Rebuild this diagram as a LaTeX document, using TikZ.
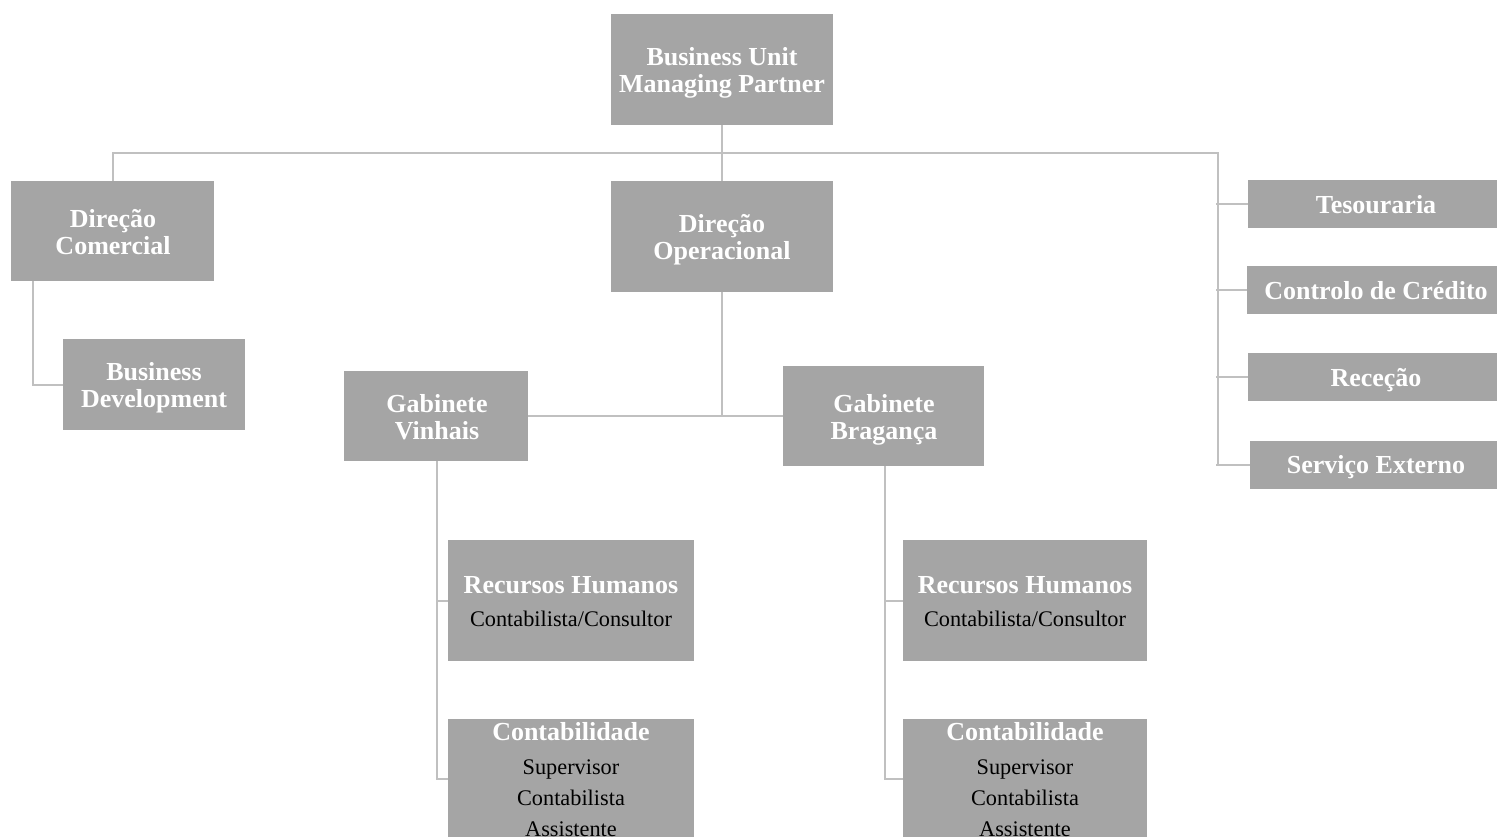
\documentclass[tikz,border=0pt]{standalone}
\usepackage{fontspec}
\setmainfont{Liberation Serif}
\definecolor{boxgray}{HTML}{A5A5A5}
\definecolor{linegray}{HTML}{C0C0C0}
\tikzset{
  unit/.style = {fill=boxgray, inner sep=0pt},
  title/.style = {anchor=base, inner sep=0pt, text=white, font=\fontsize{26}{27}\selectfont\bfseries},
  role/.style = {anchor=base, inner sep=0pt, text=black, font=\fontsize{22.3}{26}\selectfont},
  link/.style = {draw=linegray, line width=2pt}
}
\begin{document}
\begin{tikzpicture}[x=1pt, y=-1pt]
      \useasboundingbox (0, 0) rectangle (1497, 836);
      % boxes
      \node[unit, minimum width=222, minimum height=111] (bump) at (722, 69.5) {};
      \node[unit, minimum width=203, minimum height=100] (dircom) at (112.5, 231) {};
      \node[unit, minimum width=222, minimum height=111] (dirop) at (722, 236.5) {};
      \node[unit, minimum width=182, minimum height=91] (busdev) at (154, 384.5) {};
      \node[unit, minimum width=184, minimum height=90] (gabvin) at (436, 416) {};
      \node[unit, minimum width=201, minimum height=100] (gabbra) at (883.5, 416) {};
      \node[unit, minimum width=256, minimum height=48] (teso) at (1376, 204) {};
      \node[unit, minimum width=258, minimum height=48] (ctrl) at (1376, 290) {};
      \node[unit, minimum width=256, minimum height=48] (rece) at (1376, 377) {};
      \node[unit, minimum width=252, minimum height=48] (servext) at (1376, 465) {};
      \node[unit, minimum width=246, minimum height=121] (rhvin) at (571, 600.5) {};
      \node[unit, minimum width=246, minimum height=140, anchor=north] (convin) at (571, 719) {};
      \node[unit, minimum width=244, minimum height=121] (rhbra) at (1025, 600.5) {};
      \node[unit, minimum width=244, minimum height=140, anchor=north] (conbra) at (1025, 719) {};
      % lines
      \coordinate (hub) at (722, 153);
      \coordinate (rtop) at (1218, 153);
      \draw[link] (bump.south) -- (dirop.north);
      \draw[link] (dircom.north) |- (hub) -- (rtop) -- (rtop |- servext.west);
      \draw[link] ([xshift=-2]rtop |- teso.west) -- (teso.west);
      \draw[link] ([xshift=-2]rtop |- ctrl.west) -- (ctrl.west);
      \draw[link] ([xshift=-2]rtop |- rece.west) -- (rece.west);
      \draw[link] ([xshift=-2]rtop |- servext.west) -- (servext.west);
      \draw[link] ([xshift=-79.5]dircom.south) |- (busdev.west);
      \draw[link] (dirop.south) -- (dirop.south |- gabvin.east);
      \draw[link] (gabvin.east) -- (gabbra.west);
      \draw[link] ([xshift=1]gabvin.south) |- (rhvin.west);
      \draw[link] ([xshift=1]gabvin.south) |- ([yshift=10]convin.west);
      \draw[link] ([xshift=1.5]gabbra.south) |- (rhbra.west);
      \draw[link] ([xshift=1.5]gabbra.south) |- ([yshift=10]conbra.west);
      % texts
      \node[title] (bump-a) at (722, 65) {Business Unit};
      \node[title] (bump-b) at (722, 92) {Managing Partner};
      \node[title] (dircom-a) at (113, 227) {Direção};
      \node[title] (dircom-b) at (113, 254) {Comercial};
      \node[title] (dirop-a) at (722, 232) {Direção};
      \node[title] (dirop-b) at (722, 259) {Operacional};
      \node[title] (busdev-a) at (154, 380) {Business};
      \node[title] (busdev-b) at (154, 407) {Development};
      \node[title] (gabvin-a) at (437, 412) {Gabinete};
      \node[title] (gabvin-b) at (437, 439) {Vinhais};
      \node[title] (gabbra-a) at (884, 412) {Gabinete};
      \node[title] (gabbra-b) at (884, 439) {Bragança};
      \node[title] (teso-a) at (1376, 213) {Tesouraria};
      \node[title] (ctrl-a) at (1376, 299) {Controlo de Crédito};
      \node[title] (rece-a) at (1376, 386) {Receção};
      \node[title] (servext-a) at (1376, 473) {Serviço Externo};
      \node[title] (rhvin-a) at (571, 593) {Recursos Humanos};
      \node[role] (rhvin-b) at (571, 626) {Contabilista/Consultor};
      \node[title] (convin-a) at (571, 740) {Contabilidade};
      \node[role] (convin-b) at (571, 774) {Supervisor};
      \node[role] (convin-c) at (571, 805) {Contabilista};
      \node[role] (convin-d) at (571, 836) {Assistente};
      \node[title] (rhbra-a) at (1025, 593) {Recursos Humanos};
      \node[role] (rhbra-b) at (1025, 626) {Contabilista/Consultor};
      \node[title] (conbra-a) at (1025, 740) {Contabilidade};
      \node[role] (conbra-b) at (1025, 774) {Supervisor};
      \node[role] (conbra-c) at (1025, 805) {Contabilista};
      \node[role] (conbra-d) at (1025, 836) {Assistente};
\end{tikzpicture}
\end{document}
